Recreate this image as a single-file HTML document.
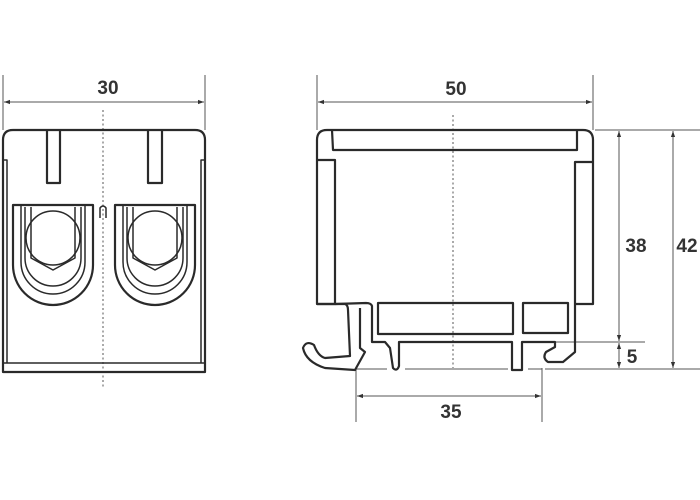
<!DOCTYPE html>
<html><head><style>html,body{margin:0;padding:0;background:#fff}svg{display:block}</style></head><body>
<svg width="700" height="500" viewBox="0 0 700 500" xmlns="http://www.w3.org/2000/svg">
<defs>
<marker id="a" viewBox="0 0 10 10" refX="10" refY="5" markerWidth="9" markerHeight="6" orient="auto-start-reverse"><path d="M0,1.5 L10,5 L0,8.5 Z" fill="#333"/></marker>
</defs>
<g fill="none" stroke="#555" stroke-width="1">
<line x1="3" y1="75" x2="3" y2="130"/><line x1="205" y1="75" x2="205" y2="130"/>
<line x1="4" y1="102" x2="204" y2="102" marker-start="url(#a)" marker-end="url(#a)"/>
<line x1="317" y1="75" x2="317" y2="130"/><line x1="593" y1="75" x2="593" y2="130"/>
<line x1="318" y1="102" x2="592" y2="102" marker-start="url(#a)" marker-end="url(#a)"/>
<line x1="595" y1="130" x2="700" y2="130"/>
<line x1="523" y1="342" x2="645" y2="342"/>
<line x1="545" y1="369" x2="700" y2="369"/>
<line x1="619" y1="131" x2="619" y2="341" marker-start="url(#a)" marker-end="url(#a)"/>
<line x1="619" y1="343" x2="619" y2="368" marker-start="url(#a)" marker-end="url(#a)"/>
<line x1="673" y1="131" x2="673" y2="368" marker-start="url(#a)" marker-end="url(#a)"/>
<line x1="356" y1="368" x2="356" y2="422"/><line x1="542" y1="368" x2="542" y2="422"/>
<line x1="357" y1="396" x2="541" y2="396" marker-start="url(#a)" marker-end="url(#a)"/>
<line x1="356" y1="369" x2="387" y2="369"/><line x1="405" y1="369" x2="508" y2="369"/><line x1="528" y1="369" x2="542" y2="369"/>
<line x1="103" y1="110" x2="103" y2="388" stroke-dasharray="2,2.5"/>
<line x1="453" y1="115" x2="453" y2="368" stroke-dasharray="2,2.5"/>
</g>
<g font-family="Liberation Sans, sans-serif" font-weight="bold" font-size="19" fill="#333" text-anchor="middle">
<text x="108" y="94">30</text><text x="456" y="95">50</text>
<text x="636" y="252">38</text><text x="687" y="252">42</text>
<text x="632" y="363">5</text><text x="451" y="418">35</text>
</g>
<g fill="none" stroke="#2a2a2a" stroke-width="2.2" stroke-linejoin="round">
<path d="M3,140 Q3,130 13,130 L195,130 Q205,130 205,140 L205,372 L3,372 Z"/>
<line x1="3" y1="363" x2="205" y2="363" stroke-width="1.5"/>
<path d="M3,160 L7,160 L7,363 M205,160 L201,160 L201,363" stroke-width="1.5"/>
<path d="M47,130 L47,183 L60,183 L60,130"/>
<path d="M148,130 L148,183 L162,183 L162,130"/>
<path d="M100,218 L100,208 Q103,204 106,208 L106,218" stroke-width="1.5"/>
<g id="u">
<path d="M13,205 L93,205 L93,265 A40,40 0 0 1 13,265 Z"/>
<path d="M21,205 L21,262 A32,32 0 0 0 85,262 L85,205" stroke-width="1.5"/>
<path d="M25,207 L25,258 A27,27 0 0 0 81,258 L81,207" stroke-width="1.5"/>
<circle cx="53" cy="238" r="27" stroke-width="1.5"/>
<path d="M31,207 L31,258 L53,270 L75,258 L75,207" stroke-width="1.5"/>
</g>
<use href="#u" x="102"/>
<path d="M317,140 Q317,130 327,130 L583,130 Q593,130 593,140 L593,304 L575,304"/>
<path d="M332,130 L333,150 L577,150 L577,130"/>
<path d="M317,140 L317,304 L335,304 L335,160 L317,160"/>
<path d="M593,162 L575,162 L575,352 L563,362 L548,362 Q542,358 546,352 L555,347 L555,342 L522,342 L522,370 L512,370 L512,342 L399,342 L399,366 Q397,372 393,368 L390,348 L385,342 L372,342 L372,306 Q371,303 366,303 L335,304"/>
<path d="M317,304 L345,304 Q348,305 348,310 L350,356 L325,358 Q318,356 314,345 Q306,340 303,348 Q306,362 325,368 L355,370 L365,352 L360,348 L360,308"/>
<rect x="378" y="303" width="135" height="31"/>
<rect x="523" y="303" width="45" height="30"/>
</g>
</svg>
</body></html>
